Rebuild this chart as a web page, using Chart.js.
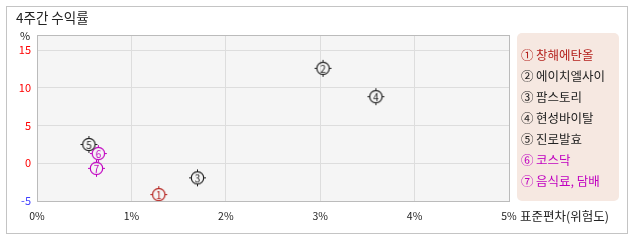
<!DOCTYPE html>
<html>
<head>
<meta charset="utf-8">
<script src="https://cdn.jsdelivr.net/npm/chart.js@4/dist/chart.umd.min.js"></script>
<style>
  body { margin: 0; background: #fff; }
  canvas { display: block; }
</style>
</head>
<body>
<canvas id="myChart" width="638" height="242"></canvas>
<script>
// data
const names = ['창해에탄올', '에이치엘사이', '팜스토리', '현성바이탈', '진로발효', '코스닥', '음식료, 담배']
const marks = ['①', '②', '③', '④', '⑤', '⑥', '⑦']
const stdDev = [1.29, 3.03, 1.70, 3.59, 0.55, 0.65, 0.63]   // x, %
const returns4w = [-4.15, 12.58, -1.93, 8.83, 2.49, 1.29, -0.67] // y, %
const xTicks = [0, 1, 2, 3, 4, 5]
const yTicks = [-5, 0, 5, 10, 15]

const colors = ['#b4201c', '#222', '#222', '#222', '#222', '#c000c0', '#c000c0']
const FONT = "'Noto Sans CJK KR', sans-serif"

// circle with the number inside and small ticks, like the original markers
function makeMarker(num, color) {
    const c = document.createElement('canvas')
    c.width = 19
    c.height = 19
    const g = c.getContext('2d')
    g.strokeStyle = color
    g.lineWidth = 1.2
    g.beginPath()
    g.arc(9.5, 9.5, 6.2, 0, Math.PI * 2)
    g.stroke()
    g.lineWidth = 1
    g.beginPath()
    g.moveTo(9.5, 1); g.lineTo(9.5, 3)
    g.moveTo(9.5, 16); g.lineTo(9.5, 18)
    g.moveTo(1, 9.5); g.lineTo(3, 9.5)
    g.moveTo(16, 9.5); g.lineTo(18, 9.5)
    g.stroke()
    g.fillStyle = color
    g.font = '10px ' + FONT
    g.textAlign = 'center'
    g.textBaseline = 'middle'
    g.fillText(num, 9.5, 10)
    return c
}

const datasets = names.map((name, i) => ({
    label: name,
    data: [{ x: stdDev[i], y: returns4w[i] }],
    pointStyle: makeMarker(String(i + 1), colors[i]),
    pointRadius: 9,
    pointHoverRadius: 9,
    borderColor: colors[i],
    backgroundColor: colors[i]
}))

const decor = {
    id: 'decor',
    beforeDraw(chart) {
        const ctx = chart.ctx
        const a = chart.chartArea
        ctx.save()
        ctx.fillStyle = '#fff'
        ctx.fillRect(0, 0, chart.width, chart.height)
        ctx.strokeStyle = '#c4c4c4'
        ctx.strokeRect(6.5, 6.5, 621, 227)
        ctx.fillStyle = '#f5f5f5'
        ctx.fillRect(a.left, a.top, a.right - a.left, a.bottom - a.top)

        ctx.fillStyle = '#222'
        ctx.font = '13.5px ' + FONT
        ctx.textBaseline = 'middle'
        ctx.textAlign = 'left'
        ctx.fillText('4주간 수익률', 16, 18)
        ctx.font = '11px ' + FONT
        ctx.textAlign = 'center'
        ctx.fillText('%', 25, 36)
        ctx.textAlign = 'left'
        ctx.font = '12.5px ' + FONT
        ctx.fillText('표준편차(위험도)', 520, 216)
        ctx.restore()
    },
    beforeDatasetsDraw(chart) {
        const ctx = chart.ctx
        const a = chart.chartArea
        ctx.save()
        ctx.strokeStyle = '#bbb'
        ctx.lineWidth = 1
        ctx.strokeRect(Math.round(a.left) + 0.5, Math.round(a.top) + 0.5,
            Math.round(a.right - a.left), Math.round(a.bottom - a.top))
        ctx.restore()
    },
    afterDraw(chart) {
        // legend box on the right
        const ctx = chart.ctx
        ctx.save()
        ctx.fillStyle = '#f6e8e1'
        ctx.beginPath()
        ctx.roundRect(517, 33, 102, 168, 5)
        ctx.fill()
        ctx.font = '12.5px ' + FONT
        ctx.textBaseline = 'middle'
        ctx.textAlign = 'left'
        names.forEach((name, i) => {
            ctx.fillStyle = colors[i]
            ctx.fillText(marks[i] + '\u2009' + name, 521, 55 + i * 21)
        })
        ctx.restore()
    }
}

new Chart(document.getElementById('myChart'), {
    type: 'scatter',
    data: { datasets },
    plugins: [decor],
    options: {
        responsive: false,
        devicePixelRatio: 1,
        animation: false,
        layout: { padding: { left: 0, top: 35, right: 129, bottom: 0 } },
        plugins: { legend: { display: false }, tooltip: { enabled: false } },
        scales: {
            x: {
                type: 'linear',
                min: 0,
                max: 5,
                afterBuildTicks: s => { s.ticks = xTicks.map(v => ({ value: v })) },
                afterFit: s => { s.height = 41 },
                grid: { color: '#ddd', drawTicks: false },
                border: { display: false },
                ticks: {
                    padding: 9,
                    color: '#222',
                    font: { family: FONT, size: 10.5 },
                    callback: v => v + '%'
                }
            },
            y: {
                type: 'linear',
                min: -5,
                max: 17,
                afterBuildTicks: s => { s.ticks = yTicks.map(v => ({ value: v })) },
                afterFit: s => { s.width = 37 },
                grid: { color: '#ddd', drawTicks: false },
                border: { display: false },
                ticks: {
                    padding: 6,
                    font: { family: FONT, size: 11 },
                    color: c => c.tick && c.tick.value < 0 ? '#4040ff' : '#ff0000'
                }
            }
        }
    }
})
</script>
</body>
</html>
